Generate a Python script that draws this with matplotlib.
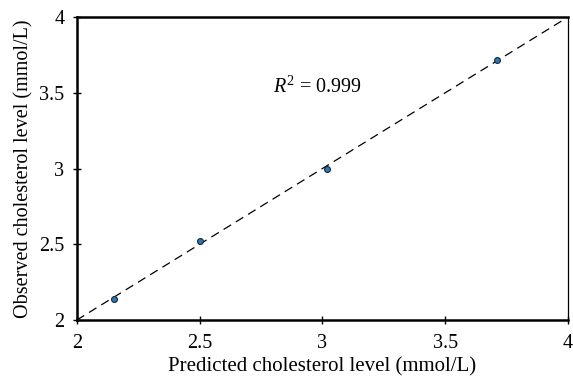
import matplotlib
matplotlib.use("Agg")
import matplotlib.pyplot as plt

# Predicted vs observed cholesterol (mmol/L)
predicted = [2.15, 2.50, 3.02, 3.71]
observed = [2.14, 2.52, 3.00, 3.72]
ticks = [2, 2.5, 3, 3.5, 4]
tick_labels = ["2", "2.5", "3", "3.5", "4"]

plt.rcParams['font.family'] = ['Liberation Serif', 'DejaVu Serif']
plt.rcParams['mathtext.fontset'] = 'custom'
plt.rcParams['mathtext.it'] = 'Liberation Serif:italic'
plt.rcParams['mathtext.rm'] = 'Liberation Serif'

fig = plt.figure(figsize=(5.73, 3.81), dpi=100)
ax = fig.add_axes([0.134, 0.160, 0.857, 0.795])

ax.plot([2, 4], [2, 4], linestyle=(0, (7, 4.5)), color='black', linewidth=0.9, zorder=1)
ax.scatter(predicted, observed, s=18, color='#2a78b8', edgecolor='#1a2a3a',
           linewidth=0.8, zorder=3)

ax.text(2.80, 3.54, r'$R^2$ = 0.999', fontsize=14.5, va='center')

ax.set_xlim(2, 4)
ax.set_ylim(2, 4)
ax.set_xticks(ticks)
ax.set_xticklabels(tick_labels)
ax.set_yticks(ticks)
ax.set_yticklabels(tick_labels)
ax.tick_params(direction='inout', length=6, width=1, labelsize=14.5)
ax.tick_params(axis='x', pad=7)
ax.tick_params(axis='y', pad=6)

for side in ['left', 'bottom', 'top']:
    ax.spines[side].set_linewidth(1.8)
ax.spines['right'].set_linewidth(0.9)

ax.set_xlabel('Predicted cholesterol level (mmol/L)', fontsize=15, labelpad=3)
ax.set_ylabel('Observed cholesterol level (mmol/L)', fontsize=14.5, labelpad=4)

fig.savefig('out.png', dpi=100)
